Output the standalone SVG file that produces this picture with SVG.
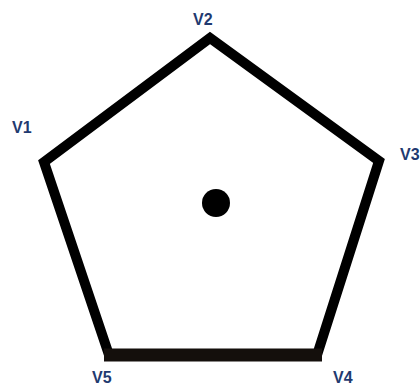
<svg xmlns="http://www.w3.org/2000/svg" width="420" height="387" viewBox="0 0 420 387">
<style>
.lbl{font-family:"Liberation Sans",Arial,sans-serif;font-weight:bold;font-size:16px;fill:#1f3a70}
.edge{fill:none;stroke:#000;stroke-width:10;stroke-linejoin:miter;stroke-linecap:square}
.base{fill:none;stroke:#140f0c;stroke-width:13;stroke-linecap:butt}
</style>
<rect width="420" height="387" fill="#fff"/>
<g id="connectors">
<path class="edge" d="M108,352 L44,162 L210,38 L379,161 L318,352"/>
<line class="base" x1="104" y1="355" x2="322" y2="355"/>
</g>
<g id="V1"><text class="lbl" x="12" y="133">V1</text></g>
<g id="V2"><text class="lbl" x="193" y="25">V2</text></g>
<g id="V3"><text class="lbl" x="400" y="160">V3</text></g>
<g id="V4"><text class="lbl" x="333" y="383">V4</text></g>
<g id="V5"><text class="lbl" x="92" y="383">V5</text></g>
<g id="center"><circle cx="216" cy="203" r="14" fill="#000"/></g>
</svg>
